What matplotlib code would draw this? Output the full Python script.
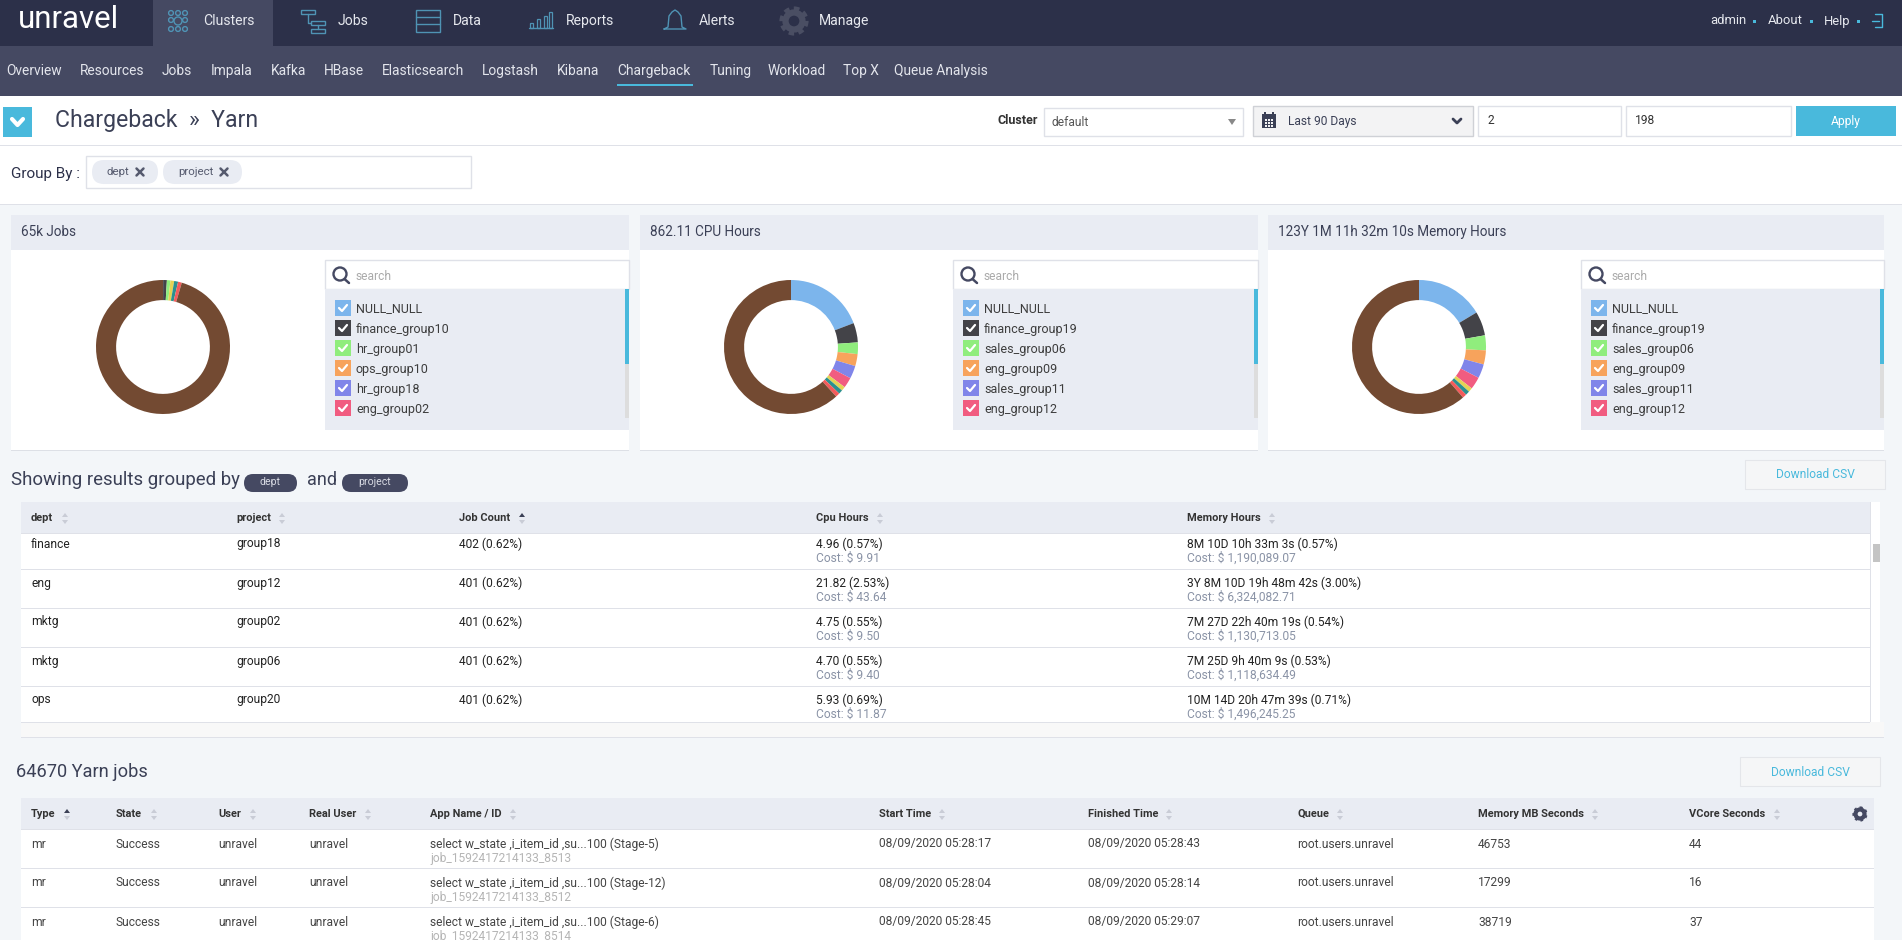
import matplotlib
matplotlib.use("Agg")
import matplotlib.pyplot as plt
from matplotlib.patches import Rectangle, FancyBboxPatch, Circle, Polygon

plt.rcParams['font.family'] = ['Roboto', 'DejaVu Sans']

W, H = 1902, 940

# donut colours, same order for every chart, last one is the big "other" slice
slice_colors = ['#7cb5ec', '#434348', '#90ed7d', '#f7a35c', '#8085e9', '#f15c80', '#e4d354', '#2b908f', '#f45b5b', '#734a32']

jobs_share = [0.03, 0.9, 0.85, 0.0, 0.0, 0.0, 0.9, 0.95, 0.9, 95.47]
cpu_share = [19.2, 4.7, 2.8, 2.9, 3.1, 2.53, 1.0, 1.0, 1.0, 61.77]
mem_share = [16.4, 5.8, 3.6, 3.4, 3.4, 3.0, 1.0, 1.0, 1.0, 61.4]

card_titles = ['65k Jobs', '862.11 CPU Hours', '123Y 1M 11h 32m 10s Memory Hours']
jobs_legend = ['NULL_NULL', 'finance_group10', 'hr_group01', 'ops_group10', 'hr_group18', 'eng_group02']
cpu_legend = ['NULL_NULL', 'finance_group19', 'sales_group06', 'eng_group09', 'sales_group11', 'eng_group12']
mem_legend = ['NULL_NULL', 'finance_group19', 'sales_group06', 'eng_group09', 'sales_group11', 'eng_group12']

nav_labels = ['Clusters', 'Jobs', 'Data', 'Reports', 'Alerts', 'Manage']
sub_labels = ['Overview', 'Resources', 'Jobs', 'Impala', 'Kafka', 'HBase', 'Elasticsearch', 'Logstash',
              'Kibana', 'Chargeback', 'Tuning', 'Workload', 'Top X', 'Queue Analysis']

group_heads = ['dept', 'project', 'Job Count', 'Cpu Hours', 'Memory Hours']
group_dept = ['finance', 'eng', 'mktg', 'mktg', 'ops']
group_project = ['group18', 'group12', 'group02', 'group06', 'group20']
group_jobs = ['402 (0.62%)', '401 (0.62%)', '401 (0.62%)', '401 (0.62%)', '401 (0.62%)']
group_cpu = ['4.96 (0.57%)', '21.82 (2.53%)', '4.75 (0.55%)', '4.70 (0.55%)', '5.93 (0.69%)']
group_cpu_cost = ['Cost: $ 9.91', 'Cost: $ 43.64', 'Cost: $ 9.50', 'Cost: $ 9.40', 'Cost: $ 11.87']
group_mem = ['8M 10D 10h 33m 3s (0.57%)', '3Y 8M 10D 19h 48m 42s (3.00%)', '7M 27D 22h 40m 19s (0.54%)',
             '7M 25D 9h 40m 9s (0.53%)', '10M 14D 20h 47m 39s (0.71%)']
group_mem_cost = ['Cost: $ 1,190,089.07', 'Cost: $ 6,324,082.71', 'Cost: $ 1,130,713.05',
                  'Cost: $ 1,118,634.49', 'Cost: $ 1,496,245.25']

job_heads = ['Type', 'State', 'User', 'Real User', 'App Name / ID', 'Start Time', 'Finished Time', 'Queue',
             'Memory MB Seconds', 'VCore Seconds']
job_apps = ['select w_state ,i_item_id ,su...100 (Stage-5)', 'select w_state ,i_item_id ,su...100 (Stage-12)',
            'select w_state ,i_item_id ,su...100 (Stage-6)']
job_ids = ['job_1592417214133_8513', 'job_1592417214133_8512', 'job_1592417214133_8514']
job_start = ['08/09/2020 05:28:17', '08/09/2020 05:28:04', '08/09/2020 05:28:45']
job_end = ['08/09/2020 05:28:43', '08/09/2020 05:28:14', '08/09/2020 05:29:07']
job_mem = ['46753', '17299', '38719']
job_vcore = ['44', '16', '37']

NAVY = '#2c3049'
SUBNAV = '#454962'
PANEL = '#e9ecf3'
LINE = '#dfe1e8'
CYAN = '#49b9dc'
INK = '#3b4056'

fig = plt.figure(figsize=(W / 100, H / 100), dpi=100, facecolor='#f3f6f9')
ax = fig.add_axes([0, 0, 1, 1])
ax.set_xlim(0, W)
ax.set_ylim(H, 0)
ax.axis('off')


def rect(x0, y0, x1, y1, color, edge='none', lw=0.0, z=1):
    ax.add_patch(Rectangle((x0, y0), x1 - x0, y1 - y0, facecolor=color, edgecolor=edge, linewidth=lw, zorder=z))


def pill(x0, y0, x1, y1, color):
    r = (y1 - y0) / 2
    ax.add_patch(FancyBboxPatch((x0 + r, y0 + r), x1 - x0 - 2 * r, 0.01, boxstyle='round,pad=%f,rounding_size=%f' % (r, r),
                                facecolor=color, edgecolor='none', zorder=2))


def txt(x, y, s, px=12, color='#222222', ha='left', weight='normal'):
    ax.text(x, y, s, fontsize=px * 0.72, color=color, ha=ha, va='center', fontweight=weight, zorder=5)


def line(xs, ys, color, lw=1.0, z=4):
    ax.plot(xs, ys, color=color, lw=lw, solid_capstyle='round', zorder=z)


def sort_arrows(x, y, up_dark=False):
    ax.add_patch(Polygon([(x - 3, y - 1), (x + 3, y - 1), (x, y - 5)], facecolor=INK if up_dark else '#c9ccd6', zorder=4))
    ax.add_patch(Polygon([(x - 3, y + 2), (x + 3, y + 2), (x, y + 6)], facecolor='#c9ccd6', zorder=4))


def download(x0, y0):
    rect(x0, y0, x0 + 140, y0 + 29, '#f5f6f7', edge='#e4e6ea', lw=0.8, z=2)
    txt(x0 + 70, y0 + 15, 'Download CSV', 12, '#49b9dc', ha='center')


# top nav
rect(0, 0, W, 46, NAVY)
rect(0, 46, W, 96, SUBNAV)
rect(153, 0, 273, 46, SUBNAV, z=2)
ax.text(18, 20, 'unravel', fontsize=22.5, color='white', va='center', ha='left', zorder=5)
nav_x = [203, 338, 453, 566, 699, 819]
for x, label in zip(nav_x, nav_labels):
    txt(x, 21, label, 14, '#e6e8ee')

ICON = '#4f93b4'
# clusters icon
for cx, cy in [(171, 13), (178, 13), (185, 13), (171, 20), (185, 20), (171, 29), (178, 29), (185, 29)]:
    ax.add_patch(Circle((cx, cy), 2.4, fill=False, edgecolor=ICON, lw=1, zorder=4))
ax.add_patch(Circle((178, 21), 4, fill=False, edgecolor=ICON, lw=1, zorder=4))
# jobs icon
for x0, y0, x1, y1 in [(301, 10, 315, 14), (311, 21, 325, 25), (311, 29, 325, 33)]:
    rect(x0, y0, x1, y1, 'none', edge=ICON, lw=1, z=4)
line([308, 308, 311], [14, 23, 23], ICON)
line([318, 318], [25, 29], ICON)
# data icon
rect(416, 10, 440, 32, 'none', edge=ICON, lw=1, z=4)
line([416, 440], [17, 17], ICON)
line([416, 440], [24, 24], ICON)
# reports icon
for x0, h in [(530, 5), (537, 9), (544, 12), (549, 16)]:
    rect(x0, 28 - h, x0 + 3, 28, 'none', edge=ICON, lw=0.9, z=4)
line([529, 553], [28, 28], ICON)
# alerts icon
line([664, 668, 669, 672, 675, 678, 681, 682, 686, 664], [29, 27, 16, 12, 10, 12, 16, 27, 29, 29], ICON)
# manage gear
ax.add_patch(Circle((794, 21), 8.5, fill=False, edgecolor='#4a4e63', lw=4.5, zorder=4))
ax.add_patch(Circle((794, 21), 12.5, fill=False, edgecolor='#4a4e63', lw=3, ls=(0, (1.3, 1.05)), zorder=4))

txt(1710, 21, 'admin', 13, '#e6e8ee')
txt(1768, 21, 'About', 13, '#e6e8ee')
txt(1824, 21, 'Help', 13, '#e6e8ee')
for x in [1754, 1811, 1858]:
    rect(x - 1.5, 19.5, x + 1.5, 22.5, CYAN, z=4)
line([1875, 1882, 1882, 1875], [14, 14, 27, 27], CYAN)
line([1872, 1879], [20.5, 20.5], CYAN)

# sub nav
sub_x = [6, 80, 162, 211, 271, 324, 382, 482, 557, 617, 710, 768, 843, 894]
for x, label in zip(sub_x, sub_labels):
    txt(x, 71, label, 13.7, '#e3e5ec')
rect(617, 84, 693, 86, CYAN, z=3)

# title row
rect(0, 96, W, 145, 'white')
rect(0, 145, W, 146, LINE, z=2)
rect(3, 107, 32, 137, CYAN, z=2)
line([12, 17.5, 23], [119, 125, 119], 'white', 3)
txt(55, 121, 'Chargeback  »  Yarn', 23, INK)
txt(998, 121, 'Cluster', 12.5, '#333333', weight='bold')
rect(1043.5, 108, 1243, 135.5, 'white', edge=LINE, lw=1, z=2)
txt(1052, 123, 'default', 12, '#555555')
ax.add_patch(Polygon([(1228, 119), (1236, 119), (1232, 125)], facecolor='#888888', zorder=4))
rect(1253, 106, 1473, 136, '#f3f3f4', edge='#cfd1d6', lw=1, z=2)
# calendar icon
rect(1262, 114, 1276, 128, INK, z=4)
rect(1264, 112, 1266, 116, INK, z=4)
rect(1272, 112, 1274, 116, INK, z=4)
for gx in [1265, 1268, 1271]:
    for gy in [119, 122, 125]:
        rect(gx, gy, gx + 1.6, gy + 1.6, '#f3f3f4', z=5)
txt(1288, 121, 'Last 90 Days', 12, INK)
line([1453, 1457, 1461], [119, 123, 119], INK, 2)
rect(1478, 106, 1621, 136, 'white', edge=LINE, lw=1, z=2)
txt(1487, 121, '2', 12, '#333333')
rect(1626, 106, 1791, 136, 'white', edge=LINE, lw=1, z=2)
txt(1635, 121, '198', 12, '#333333')
rect(1796, 106, 1896, 136, CYAN, z=2)
txt(1846, 121, 'Apply', 12, 'white', ha='center')

# group by row
rect(0, 146, W, 204, 'white')
rect(0, 204, W, 205, LINE, z=2)
txt(11, 174, 'Group By :', 15.3, NAVY)
rect(86, 156, 471, 188, 'white', edge=LINE, lw=1, z=2)
pill(92, 160, 158, 184, PANEL)
pill(163, 160, 242, 184, PANEL)
txt(106.5, 172, 'dept', 11.5, '#555a6e')
txt(178, 172, 'project', 11.5, '#555a6e')
for cx in [140, 224]:
    line([cx - 3.5, cx + 3.5], [168.5, 175.5], '#555a6e', 1.8)
    line([cx - 3.5, cx + 3.5], [175.5, 168.5], '#555a6e', 1.8)

# donut cards
cards = [
    (11, 629, 163, 325, jobs_share, jobs_legend),
    (640, 1258, 791, 953, cpu_share, cpu_legend),
    (1268, 1884, 1419, 1581, mem_share, mem_legend),
]
for n, (x0, x1, cx, lx, share, names) in enumerate(cards):
    rect(x0, 215, x1, 450, 'white')
    rect(x0, 450, x1, 451, '#dde0e6')
    rect(x0, 215, x1, 250, PANEL, z=2)
    txt(x0 + 10, 232, card_titles[n], 13.5, INK)

    pie_ax = fig.add_axes([(cx - 67) / W, 1 - (347 + 67) / H, 134 / W, 134 / H])
    pie_ax.pie(share, colors=slice_colors, startangle=90, counterclock=False, radius=1,
               wedgeprops=dict(width=0.3, linewidth=0))
    pie_ax.set_xlim(-1, 1)
    pie_ax.set_ylim(-1, 1)

    rect(lx, 260, x1, 289, 'white', edge=LINE, lw=1, z=2)
    ax.add_patch(Circle((lx + 15, 274), 6.5, fill=False, edgecolor=SUBNAV, lw=1.7, zorder=4))
    line([lx + 19.5, lx + 24], [279, 283], SUBNAV, 1.8)
    txt(lx + 31, 276, 'search', 12, '#aaaaaa')

    rect(lx, 289, x1, 430, PANEL, z=2)
    rect(x1 - 4.5, 289, x1, 418, '#dddddd', z=3)
    rect(x1 - 4.5, 289, x1, 364, CYAN, z=4)
    for i, name in enumerate(names):
        y = 308 + 20 * i
        rect(lx + 10, y - 8, lx + 26, y + 8, slice_colors[i], z=3)
        line([lx + 14, lx + 17, lx + 22], [y, y + 3, y - 3], 'white', 1.6)
        txt(lx + 31, y + 1, name, 12.5, '#3d3d3d')

# grouped table
txt(11, 480, 'Showing results grouped by', 18.6, INK)
pill(244, 474, 297, 492, SUBNAV)
txt(270.5, 482, 'dept', 10.5, '#d9dbe4', ha='center')
txt(307, 480, 'and', 18, INK)
pill(342, 474, 408, 492, SUBNAV)
txt(375, 482, 'project', 10.5, '#d9dbe4', ha='center')
download(1745, 460)

rect(21, 502, 1880, 722, 'white')
rect(21, 722, 1884, 737, '#f8f8f8')
rect(21, 737, 1884, 738, LINE)
rect(21, 502, 1870, 533, PANEL, z=2)
rect(21, 533, 1870, 534, LINE, z=2)
rect(1870, 502, 1871, 722, LINE, z=2)
rect(1873, 544, 1880, 562, '#c4c4c4', z=3)

col_x = [31, 236, 459, 816, 1187]
arrow_x = [65, 282, 522, 880, 1272]
for i, head in enumerate(group_heads):
    txt(col_x[i], 518, head, 11, '#333333', weight='bold')
    sort_arrows(arrow_x[i], 518, up_dark=head == 'Job Count')

row_y = [544, 583, 622, 661, 700]
row_lines = [569, 608, 647, 686, 722]
for i, y in enumerate(row_y):
    txt(col_x[0], y, group_dept[i], 12)
    txt(col_x[1], y, group_project[i], 12)
    txt(col_x[2], y, group_jobs[i], 12)
    txt(col_x[3], y, group_cpu[i], 12)
    txt(col_x[3], y + 14, group_cpu_cost[i], 12, '#8a93a6')
    txt(col_x[4], y, group_mem[i], 12)
    txt(col_x[4], y + 14, group_mem_cost[i], 12, '#8a93a6')
    rect(21, row_lines[i], 1870, row_lines[i] + 1, LINE, z=2)

# jobs table
txt(16, 772, '64670 Yarn jobs', 18.3, INK)
download(1740, 757)
rect(21, 798, 1874, H, 'white')
rect(21, 798, 1874, 829, PANEL, z=2)
rect(21, 829, 1874, 830, LINE, z=2)
job_col = [31, 116, 218, 309, 430, 879, 1088, 1297, 1478, 1689]
job_arrow = [67, 154, 253, 368, 513, 942, 1169, 1340, 1595, 1777]
for i, head in enumerate(job_heads):
    txt(job_col[i], 814, head, 11, '#333333', weight='bold')
    sort_arrows(job_arrow[i], 814, up_dark=head == 'Type')

# settings gear in the header
ax.add_patch(Circle((1860, 814), 4.5, fill=False, edgecolor=SUBNAV, lw=3, zorder=4))
ax.add_patch(Circle((1860, 814), 6.5, fill=False, edgecolor=SUBNAV, lw=1.6, ls=(0, (1.2, 1.4)), zorder=4))

job_y = [844, 883, 922]
job_lines = [868, 907]
for i, y in enumerate(job_y):
    txt(job_col[0], y, 'mr', 12, '#444444')
    txt(job_col[1], y, 'Success', 12, '#444444')
    txt(job_col[2], y, 'unravel', 12, '#444444')
    txt(job_col[3], y, 'unravel', 12, '#444444')
    txt(job_col[4], y, job_apps[i], 12, '#444444')
    txt(job_col[4], y + 14.5, job_ids[i], 12, '#b5b5b5')
    txt(job_col[5], y, job_start[i], 12, '#444444')
    txt(job_col[6], y, job_end[i], 12, '#444444')
    txt(job_col[7], y, 'root.users.unravel', 12, '#444444')
    txt(job_col[8], y, job_mem[i], 12, '#444444')
    txt(job_col[9], y, job_vcore[i], 12, '#444444')
for y in job_lines:
    rect(21, y, 1874, y + 1, LINE, z=2)

fig.savefig('out.png', dpi=100, facecolor=fig.get_facecolor())
